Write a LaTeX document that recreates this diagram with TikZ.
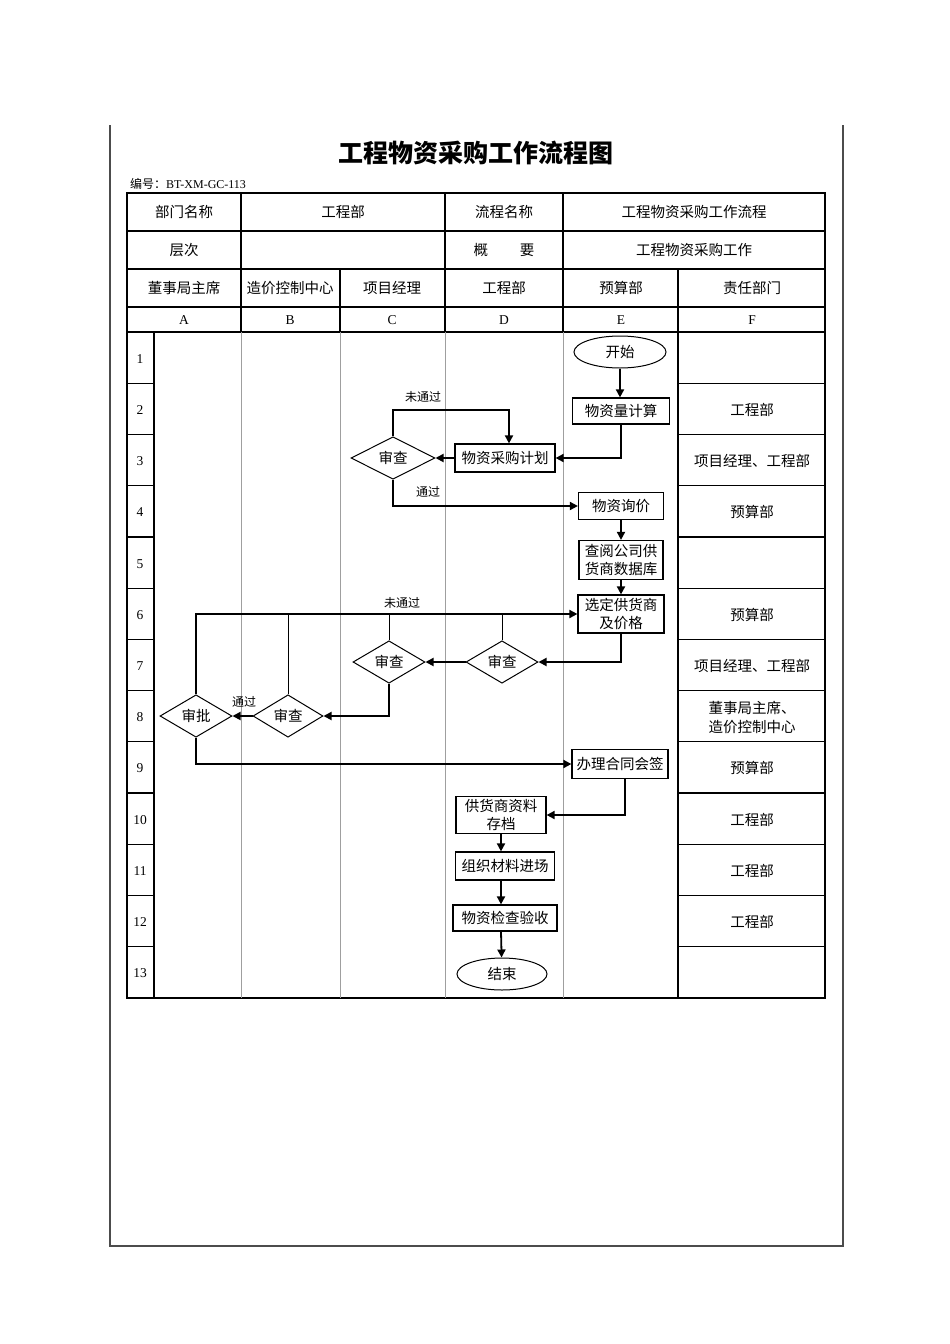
\documentclass[tikz,border=0pt]{standalone}
\usepackage{fontspec}
\setmainfont{Liberation Serif}
\newfontfamily\cjk{Noto Sans CJK SC}
\usetikzlibrary{shapes.geometric,arrows.meta}

\begin{document}
\begin{tikzpicture}[x=1pt,y=-1pt,
    every node/.style={inner sep=0pt,font=\cjk\fontsize{14.5}{18}\selectfont},
    grid/.style={line width=1.3pt},
    lane/.style={draw=gray!75,line width=1pt},
    box/.style={draw,line width=1.2pt,rectangle,align=center,font=\cjk\fontsize{14.5}{18}\selectfont},
    term/.style={draw,line width=1pt,ellipse},
    chk/.style={draw,line width=1pt,diamond,minimum width=72pt,minimum height=40pt},
    flow/.style={line width=1.8pt,-{Triangle[length=8pt,width=8pt]}},
    link/.style={line width=1pt},
    tag/.style={font=\cjk\fontsize{12}{14}\selectfont},
    num/.style={font=\fontsize{13.5}{16}\selectfont}]
\useasboundingbox (0,0) rectangle (950,1344);

\draw[line width=1.4pt,draw=black!70] (110,125) -- (110,1246) -- (843,1246) -- (843,125);

\node[font=\cjk\bfseries\fontsize{25}{28}\selectfont] (title) at (476,153) {工程物资采购工作流程图};
\node[anchor=west,font=\fontsize{12}{14}\selectfont] (code) at (130,184) {{\cjk 编号：}BT-XM-GC-113};

\draw[line width=1.8pt] (127,193) rectangle (825,998);
\draw[grid] (127,231) -- (825,231);
\draw[grid] (127,269) -- (825,269);
\draw[grid] (127,307) -- (825,307);
\draw[grid] (127,332) -- (825,332);
\draw[grid] (241,193) -- (241,332);
\draw[grid] (445,193) -- (445,332);
\draw[grid] (563,193) -- (563,332);
\draw[grid] (340,269) -- (340,332);
\draw[grid] (678,269) -- (678,998);
\draw[grid] (154,332) -- (154,998);
\draw[lane] (241,332) -- (241,998);
\draw[lane] (340,332) -- (340,998);
\draw[lane] (445,332) -- (445,998);
\draw[lane] (563,332) -- (563,998);

\draw[grid] (127,383.2) -- (154,383.2) (678,383.2) -- (825,383.2);
\draw[grid] (127,434.5) -- (154,434.5) (678,434.5) -- (825,434.5);
\draw[grid] (127,485.7) -- (154,485.7) (678,485.7) -- (825,485.7);
\draw[grid] (127,536.9) -- (154,536.9) (678,536.9) -- (825,536.9);
\draw[grid] (127,588.2) -- (154,588.2) (678,588.2) -- (825,588.2);
\draw[grid] (127,639.4) -- (154,639.4) (678,639.4) -- (825,639.4);
\draw[grid] (127,690.6) -- (154,690.6) (678,690.6) -- (825,690.6);
\draw[grid] (127,741.8) -- (154,741.8) (678,741.8) -- (825,741.8);
\draw[grid] (127,793.1) -- (154,793.1) (678,793.1) -- (825,793.1);
\draw[grid] (127,844.3) -- (154,844.3) (678,844.3) -- (825,844.3);
\draw[grid] (127,895.5) -- (154,895.5) (678,895.5) -- (825,895.5);
\draw[grid] (127,946.8) -- (154,946.8) (678,946.8) -- (825,946.8);

\node (deptname) at (184,212) {部门名称};
\node (dept) at (343,212) {工程部};
\node (procname) at (504,212) {流程名称};
\node (proc) at (694,212) {工程物资采购工作流程};
\node (levelname) at (184,250) {层次};
\node (summname) at (504,250) {概\hspace{32pt}要};
\node (summ) at (694,250) {工程物资采购工作};
\node (hA) at (184,288) {董事局主席};
\node (hB) at (290,288) {造价控制中心};
\node (hC) at (392,288) {项目经理};
\node (hD) at (504,288) {工程部};
\node (hE) at (621,288) {预算部};
\node (hF) at (752,288) {责任部门};
\node[num] (lA) at (184,320) {A};
\node[num] (lB) at (290,320) {B};
\node[num] (lC) at (392,320) {C};
\node[num] (lD) at (504,320) {D};
\node[num] (lE) at (621,320) {E};
\node[num] (lF) at (752,320) {F};

\node[num] (n1) at (140,359) {1};
\node[num] (n2) at (140,410) {2};
\node[num] (n3) at (140,461) {3};
\node[num] (n4) at (140,512) {4};
\node[num] (n5) at (140,564) {5};
\node[num] (n6) at (140,615) {6};
\node[num] (n7) at (140,666) {7};
\node[num] (n8) at (140,717) {8};
\node[num] (n9) at (140,768) {9};
\node[num] (n10) at (140,820) {10};
\node[num] (n11) at (140,871) {11};
\node[num] (n12) at (140,922) {12};
\node[num] (n13) at (140,973) {13};

\node (f2) at (752,410) {工程部};
\node (f3) at (752,461) {项目经理、工程部};
\node (f4) at (752,512) {预算部};
\node (f6) at (752,615) {预算部};
\node (f7) at (752,666) {项目经理、工程部};
\node[align=left,font=\cjk\fontsize{14.5}{19}\selectfont] (f8) at (752,717) {董事局主席、\\造价控制中心};
\node (f9) at (752,768) {预算部};
\node (f10) at (752,820) {工程部};
\node (f11) at (752,871) {工程部};
\node (f12) at (752,922) {工程部};

\node[term,minimum width=92pt,minimum height=32pt] (start) at (620,352) {开始};
\node[box,minimum width=97pt,minimum height=26pt] (calc) at (621,411) {物资量计算};
\node[box,minimum width=100pt,minimum height=28pt] (plan) at (505,458) {物资采购计划};
\node[chk,minimum width=84pt] (chk1) at (393,458) {审查};
\node[box,minimum width=85pt,minimum height=27pt] (ask) at (621,506) {物资询价};
\node[box,minimum width=84pt,minimum height=39pt] (db) at (621,560) {查阅公司供\\货商数据库};
\node[box,minimum width=86pt,minimum height=38pt] (sel) at (621,614) {选定供货商\\及价格};
\node[chk] (chk2) at (502,662) {审查};
\node[chk] (chk3) at (389,662) {审查};
\node[chk,minimum width=70pt] (chk4) at (288,716) {审查};
\node[chk] (appr) at (196,716) {审批};
\node[box,minimum width=96pt,minimum height=29pt] (sign) at (620,764) {办理合同会签};
\node[box,minimum width=90pt,minimum height=37pt] (file) at (501,815) {供货商资料\\存档};
\node[box,minimum width=99pt,minimum height=28pt] (enter) at (505,866) {组织材料进场};
\node[box,minimum width=104pt,minimum height=26pt] (inspect) at (505,918) {物资检查验收};
\node[term,minimum width=90pt,minimum height=32pt] (end) at (502,974) {结束};

\coordinate (back1) at (393,410);
\coordinate (back2) at (196,614);

\draw[flow] (start) -- (start |- calc.north);
\draw[flow] (calc.south) |- (plan.east);
\draw[flow] (plan) -- (chk1);
\draw[flow] (chk1.north) -- (back1) -| ([xshift=4pt]plan.north);
\node[tag] (nopass1) at (423,397) {未通过};
\draw[flow] (chk1.south) |- (ask.west);
\node[tag] (pass1) at (428,492) {通过};
\draw[flow] (ask) -- (db);
\draw[flow] (db) -- (sel);
\draw[flow] (sel.south) |- (chk2.east);
\draw[flow] (chk2) -- (chk3);
\draw[flow] (chk3.south) |- (chk4.east);
\draw[flow] (chk4) -- (appr);
\node[tag] (pass2) at (244,702) {通过};
\draw[flow] (appr.north) -- (back2) -- (sel.west);
\draw[link] (chk2.north) -- (chk2.north |- back2);
\draw[link] (chk3.north) -- (chk3.north |- back2);
\draw[link] (chk4.north) -- (chk4.north |- back2);
\node[tag] (nopass2) at (402,603) {未通过};
\draw[flow] (appr.south) |- (sign.west);
\draw[flow] ([xshift=5pt]sign.south) |- (file.east);
\draw[flow] (file.south) -- (file.south |- enter.north);
\draw[flow] (file.south |- enter.south) -- (file.south |- inspect.north);
\draw[flow] (file.south |- inspect.south) -- (end);
\end{tikzpicture}
\end{document}
